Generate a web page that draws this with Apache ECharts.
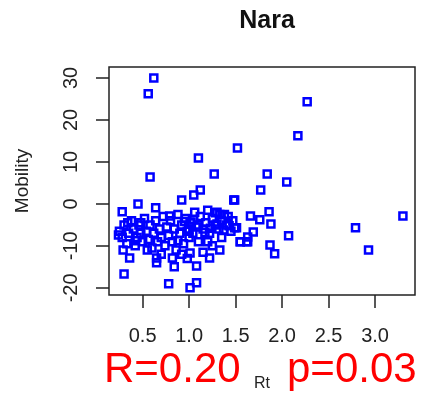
<!DOCTYPE html>
<html><head><meta charset="utf-8">
<script src="https://cdn.jsdelivr.net/npm/echarts@6/dist/echarts.min.js"></script>
<style>html,body{margin:0;padding:0;background:#fff}#c{width:423px;height:399px}</style>
</head><body><div id="c"></div>
<script>
const title = "Nara";
const xLabel = "Rt";
const yLabel = "Mobility";
const statR = "R=0.20";
const statP = "p=0.03";
const xTicks = [0.5, 1.0, 1.5, 2.0, 2.5, 3.0];
const yTicks = [-20, -10, 0, 10, 20, 30];
const rt = [
 0.62,0.56,1.52,1.10,1.27,0.58,2.27,2.17,1.84,2.05,1.77,1.49,1.66,1.86,1.76,1.88,1.51,1.69,1.63,1.55,1.63,2.07,1.87,1.92,2.79,2.93,3.30,1.33,
 1.12,1.05,0.92,1.48,0.45,0.64,0.28,0.79,0.34,0.48,1.01,1.28,1.49,0.24,0.42,0.29,0.36,0.65,0.65,0.82,0.84,1.08,1.22,1.33,1.01,0.30,0.78,1.01,1.08,1.55,1.62,
 0.25,0.28,0.30,0.33,0.35,0.38,0.40,0.42,0.44,0.46,0.48,0.50,0.52,0.54,0.56,0.58,0.60,0.62,0.64,0.66,0.68,
 0.70,0.72,0.74,0.76,0.78,0.80,0.82,0.84,0.86,0.88,0.90,0.92,0.94,0.96,0.98,1.00,1.02,1.04,1.06,1.08,1.10,
 1.12,1.15,1.18,1.20,1.22,1.25,1.28,1.30,1.32,1.35,1.38,1.40,1.42,1.45,1.47,1.35,1.20,1.25,0.92,0.98,1.15,0.55,0.70,
 1.05,1.10,1.17,1.23,1.30,1.37,1.43,0.95,0.88,1.00
];
const mobility = [
 30.0,26.2,13.3,10.9,7.1,6.4,24.3,16.2,7.1,5.2,3.3,0.9,-2.9,-1.9,-3.8,-4.8,-5.7,-6.7,-7.9,-9.0,-9.0,-7.6,-9.8,-11.9,-5.7,-11.0,-2.9,-2.5,
 3.3,2.1,0.9,0.9,0.0,-0.9,-1.9,-2.9,-4.5,-4.5,-4.3,-2.1,-5.7,-7.4,-8.8,-11.0,-12.9,-12.9,-14.0,-12.9,-15.0,-14.8,-12.9,-11.0,-11.7,-16.7,-19.0,-20.0,-18.8,-9.0,-9.0,
 -6.5,-8.0,-5.0,-9.5,-7.0,-4.0,-6.0,-10.0,-8.0,-5.0,-7.0,-9.0,-3.5,-6.5,-8.5,-5.0,-10.5,-7.0,-4.0,-9.0,-6.0,
 -8.0,-3.0,-10.0,-5.5,-7.5,-4.0,-9.0,-6.0,-11.0,-2.5,-7.0,-5.0,-9.5,-3.5,-6.5,-8.0,-4.5,-7.0,-2.0,-5.5,-9.0,
 -3.0,-6.0,-4.5,-1.5,-7.0,-3.5,-5.0,-2.0,-6.0,-4.0,-2.5,-5.0,-3.0,-6.5,-4.0,-8.0,-9.0,-10.0,-12.0,-13.0,-11.5,-11.0,-12.0,
 -3.8,-5.0,-6.8,-5.8,-4.8,-6.2,-5.2,-4.2,-8.8,-6.0
];
const points = rt.map((v, i) => [v, mobility[i]]);

const chart = echarts.init(document.getElementById('c'), null, {renderer: 'canvas'});
const font = 'Liberation Sans, Arial, sans-serif';
chart.setOption({
  animation: false,
  title: {text: title, left: 262, top: 4, textAlign: 'center',
    textStyle: {fontFamily: font, fontWeight: 'bold', fontSize: 25, color: '#111'}},
  grid: {left: 109, top: 67, width: 306, height: 228, show: true,
    borderColor: '#222', borderWidth: 1.5, backgroundColor: 'transparent'},
  xAxis: {type: 'value', min: 0.138, max: 3.43,
    axisLine: {show: false, onZero: false}, splitLine: {show: false},
    axisTick: {show: true, length: 13, customValues: xTicks, lineStyle: {color: '#222', width: 1.5}},
    axisLabel: {customValues: xTicks, margin: 31, fontFamily: font, fontSize: 20, color: '#222',
      formatter: v => v.toFixed(1)},
    name: xLabel, nameLocation: 'middle', nameGap: 81,
    nameTextStyle: {fontFamily: font, fontSize: 16, color: '#222'}},
  yAxis: {type: 'value', min: -21.7, max: 32.6,
    axisLine: {show: false, onZero: false}, splitLine: {show: false},
    axisTick: {show: true, length: 13, customValues: yTicks, lineStyle: {color: '#222', width: 1.5}},
    axisLabel: {customValues: yTicks, rotate: 90, margin: 28, fontFamily: font, fontSize: 20, color: '#222'},
    name: yLabel, nameLocation: 'middle', nameGap: 77, nameRotate: 90,
    nameTextStyle: {fontFamily: font, fontSize: 19, color: '#222'}},
  graphic: [
    {type: 'text', left: 104, top: 349, style: {text: statR, fill: '#ff0000', font: '42px Liberation Sans, Arial, sans-serif'}},
    {type: 'text', left: 287, top: 349, style: {text: statP, fill: '#ff0000', font: '42px Liberation Sans, Arial, sans-serif'}}
  ],
  series: [{type: 'scatter', data: points, symbol: 'rect', symbolSize: 7,
    itemStyle: {color: 'rgba(0,0,0,0)', borderColor: '#0000ff', borderWidth: 2.5, opacity: 1}}]
});
</script></body></html>
